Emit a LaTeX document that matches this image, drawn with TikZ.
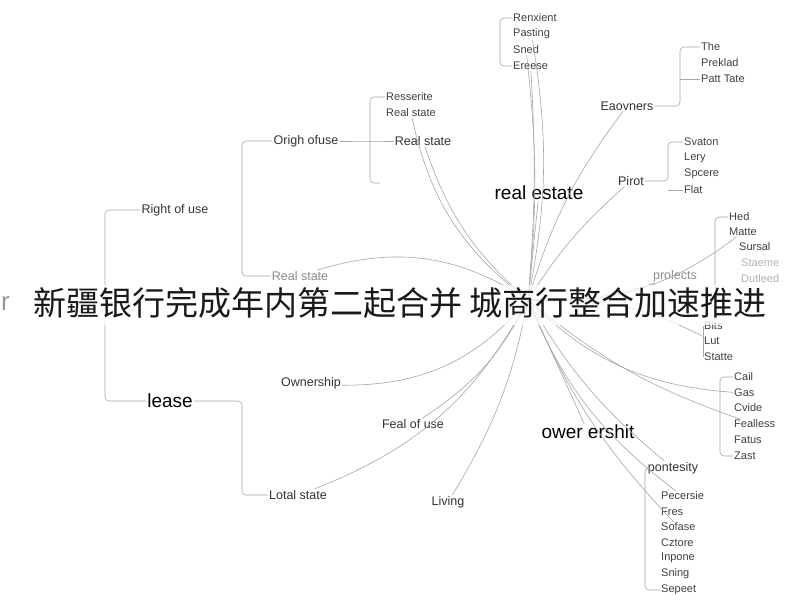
\documentclass[tikz,border=0pt]{standalone}
\usepackage{fontspec}
\setmainfont{Liberation Sans}
\newfontfamily\cjk{Noto Sans CJK SC}
\begin{document}
\begin{tikzpicture}[x=1pt,y=-1pt,
  leaf/.style={font=\fontsize{11}{12}\selectfont,text=black!75,inner sep=1pt,anchor=west},
  branch/.style={font=\fontsize{12.5}{14}\selectfont,text=black!80,inner sep=1pt},
  big/.style={font=\fontsize{19}{21}\selectfont,text=black,inner sep=1pt},
  wire/.style={draw=black!35,line width=0.6pt},
  brace/.style={draw=black!35,line width=0.6pt,rounded corners=4pt}]
  %% Canvas.
  \useasboundingbox (0,0) rectangle (800,600);
  \fill[white] (0,0) rectangle (800,600);
  %% The hub where all the strands meet.
  \coordinate (hub) at (528,300);

  %% Main nodes.
  \node[big] (re) at (539,193) {real estate};
  \node[big] (ow) at (588,432) {ower ershit};
  \node[big] (lease) at (170,401) {lease};
  \node[branch] (rou) at (175,210) {Right of use};
  \node[branch] (oof) at (306,141) {Origh ofuse};
  \node[branch] (rs1) at (423,141) {Real state};
  \node[branch,text=black!45] (rs2) at (300,276) {Real state};
  \node[branch] (own) at (311,383) {Ownership};
  \node[branch] (fou) at (413,424) {Feal of use};
  \node[branch] (lot) at (298,495) {Lotal state};
  \node[branch] (liv) at (448,502) {Living};
  \node[branch] (eao) at (627,106) {Eaovners};
  \node[branch] (pir) at (631,181) {Pirot};
  \node[branch,text=black!45] (prj) at (675,276) {prolects};
  \node[branch] (pon) at (673,468) {pontesity};

  %% Leaf groups: name / x / y / text.
  \foreach \n/\x/\y/\t in {a1/512/18/Renxient,a2/512/34/Pasting,a3/512/50/Sned,a4/512/66/Ereese,
    b1/700/47/The,b2/700/63/Preklad,b3/700/79/Patt Tate,
    c1/385/97/Resserite,c2/385/113/Real state,
    d1/683/142/Svaton,d2/683/158/Lery,d3/683/174/Spcere,d4/683/190/Flat,
    e1/728/217/Hed,e2/728/232/Matte,e3/738/247/Sursal,
    f1/703/326/Bits,f2/703/341/Lut,f3/703/357/Statte,
    g1/733/377/Cail,g2/733/393/Gas,g3/733/408/Cvide,g4/733/424/Fealless,g5/733/440/Fatus,g6/733/456/Zast,
    h1/660/496/Pecersie,h2/660/512/Fres,h3/660/527/Sofase,h4/660/543/Cztore,h5/660/558/Inpone,h6/660/574/Sning,h7/660/590/Sepeet}
    \node[leaf] (\n) at (\x,\y) {\t};
  \node[leaf,text=black!30] (e4) at (740,263) {Staeme};
  \node[leaf,text=black!30] (e5) at (740,279) {Dutleed};

  %% Brackets.
  \draw[brace] (rou.west) -- (105,210) -- (105,401) -- (lease.west);
  \draw[brace] (oof.west) -- (242,141) -- (242,276) -- (rs2.west);
  \draw[brace] (lease.east) -- (242,401) -- (242,495) -- (lot.west);
  \draw[brace] (oof.east) -- (370,141) -- (rs1.west);
  \draw[brace] (c1.west) -- (370,97) -- (370,183) -- (380,183);
  \draw[brace] (a1.west) -- (500,18) -- (500,66) -- (a4.west);
  \draw[brace] (eao.east) -- (680,106) -- (680,47) -- (b1.west);
  \draw[brace] (b3.west) -- (680,79);
  \draw[brace] (pir.east) -- (668,181) -- (668,142) -- (d1.west);
  \draw[brace] (d4.west) -- (668,190);
  \draw[brace] (e1.west) -- (715,217) -- (715,300);
  \draw[brace] (f1.west) -- (703,357) -- (f3.west);
  \draw[brace] (g1.west) -- (720,377) -- (720,456) -- (g6.west);
  \draw[brace] (pon.west) -- (645,468) -- (645,590) -- (h7.west);

  %% Strands from the hub.
  \foreach \n/\b in {re/0,ow/0,a2/-10,a3/-6,a4/-4,eao/10,pir/8,rs1/15,c2/20,rs2/-25,own/25,fou/15,
    lot/20,liv/10,prj/-10,e2/-20,f2/15,g2/-20,g4/-10,pon/-10,h1/-15,h3/-10}
    \draw[wire] (hub) to[bend left=\b] (\n);

  %% Headline across the middle.
  \fill[white,opacity=0.75] (0,285) rectangle (800,325);
  \node[leaf,text=black!40,font=\fontsize{26}{28}\selectfont] (rr) at (0,303) {r};
  \node[font=\cjk\fontsize{33}{36}\selectfont,text=black!90] (title) at (400,303)
    {新疆银行完成年内第二起合并 城商行整合加速推进};
\end{tikzpicture}
\end{document}
